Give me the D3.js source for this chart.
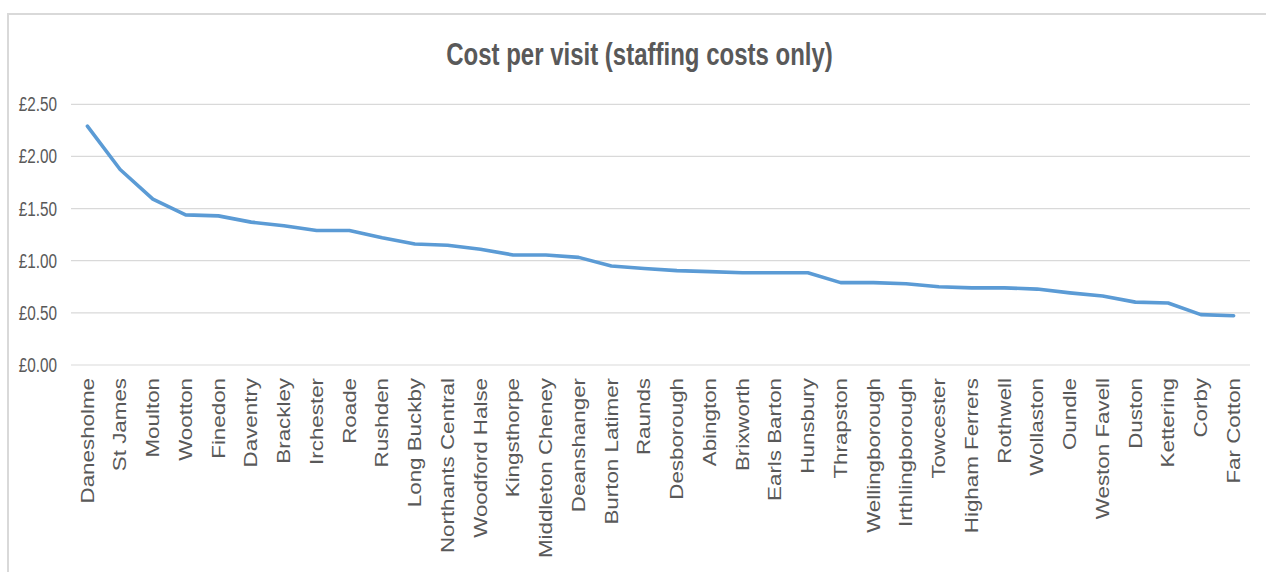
<!DOCTYPE html>
<html>
<head>
<meta charset="utf-8">
<script src="https://cdn.jsdelivr.net/npm/d3@7"></script>
<style>
html,body{margin:0;padding:0;background:#fff;}
svg{display:block;}
text{font-family:"Liberation Sans",Arial,sans-serif;fill:#595959;}
</style>
</head>
<body>
<script>
const categories = ["Danesholme","St James","Moulton","Wootton","Finedon","Daventry","Brackley","Irchester","Roade","Rushden","Long Buckby","Northants Central","Woodford Halse","Kingsthorpe","Middleton Cheney","Deanshanger","Burton Latimer","Raunds","Desborough","Abington","Brixworth","Earls Barton","Hunsbury","Thrapston","Wellingborough","Irthlingborough","Towcester","Higham Ferrers","Rothwell","Wollaston","Oundle","Weston Favell","Duston","Kettering","Corby","Far Cotton"];
const costPerVisit = [2.29,1.875,1.59,1.44,1.43,1.37,1.335,1.29,1.29,1.22,1.16,1.148,1.11,1.055,1.055,1.032,0.95,0.926,0.905,0.895,0.884,0.884,0.884,0.79,0.79,0.779,0.75,0.74,0.74,0.728,0.692,0.662,0.603,0.594,0.483,0.472];
const yTicks = [0,0.5,1,1.5,2,2.5];
const title = "Cost per visit (staffing costs only)";

const W = 1266, H = 572;
const SY = 1.27; // vertical stretch of the text in the reference
const svg = d3.select("body").append("svg").attr("width", W).attr("height", H);

// chart border
svg.append("rect").attr("x", 8).attr("y", 14).attr("width", W + 20).attr("height", H + 20)
  .attr("fill", "none").attr("stroke", "#d9d9d9").attr("stroke-width", 2);

const x = d3.scalePoint().domain(categories).range([71, 1250]).padding(0.5);
const y = d3.scaleLinear().domain([0, 2.5]).range([365, 104.3]);

// gridlines
svg.append("g").selectAll("line").data(yTicks).join("line")
  .attr("x1", 71).attr("x2", 1250)
  .attr("y1", d => y(d)).attr("y2", d => y(d))
  .attr("stroke", "#d9d9d9").attr("stroke-width", 1.2);

// y labels
const fmt = d => "£" + d3.format(".2f")(d);
svg.append("g").selectAll("text").data(yTicks).join("text")
  .attr("transform", d => `translate(57,${y(d)}) scale(1,${SY})`)
  .attr("text-anchor", "end").attr("dy", "0.36em")
  .style("font-size", "15.3px").text(fmt);

// x labels
svg.append("g").selectAll("text").data(categories).join("text")
  .attr("transform", d => `translate(${x(d)},378) rotate(-90) scale(${SY},1)`)
  .attr("text-anchor", "end").attr("dy", "0.36em")
  .style("font-size", "17.6px").text(d => d);

// line
const line = d3.line().x((d, i) => x(categories[i])).y(d => y(d));
svg.append("path").datum(costPerVisit).attr("d", line)
  .attr("fill", "none").attr("stroke", "#5b9bd5").attr("stroke-width", 3.6)
  .attr("stroke-linejoin", "round").attr("stroke-linecap", "round");

// title
svg.append("text").attr("transform", `translate(639.5,65) scale(1,${SY})`)
  .attr("text-anchor", "middle").style("font-size", "24px").style("font-weight", "bold")
  .text(title);
</script>
</body>
</html>
